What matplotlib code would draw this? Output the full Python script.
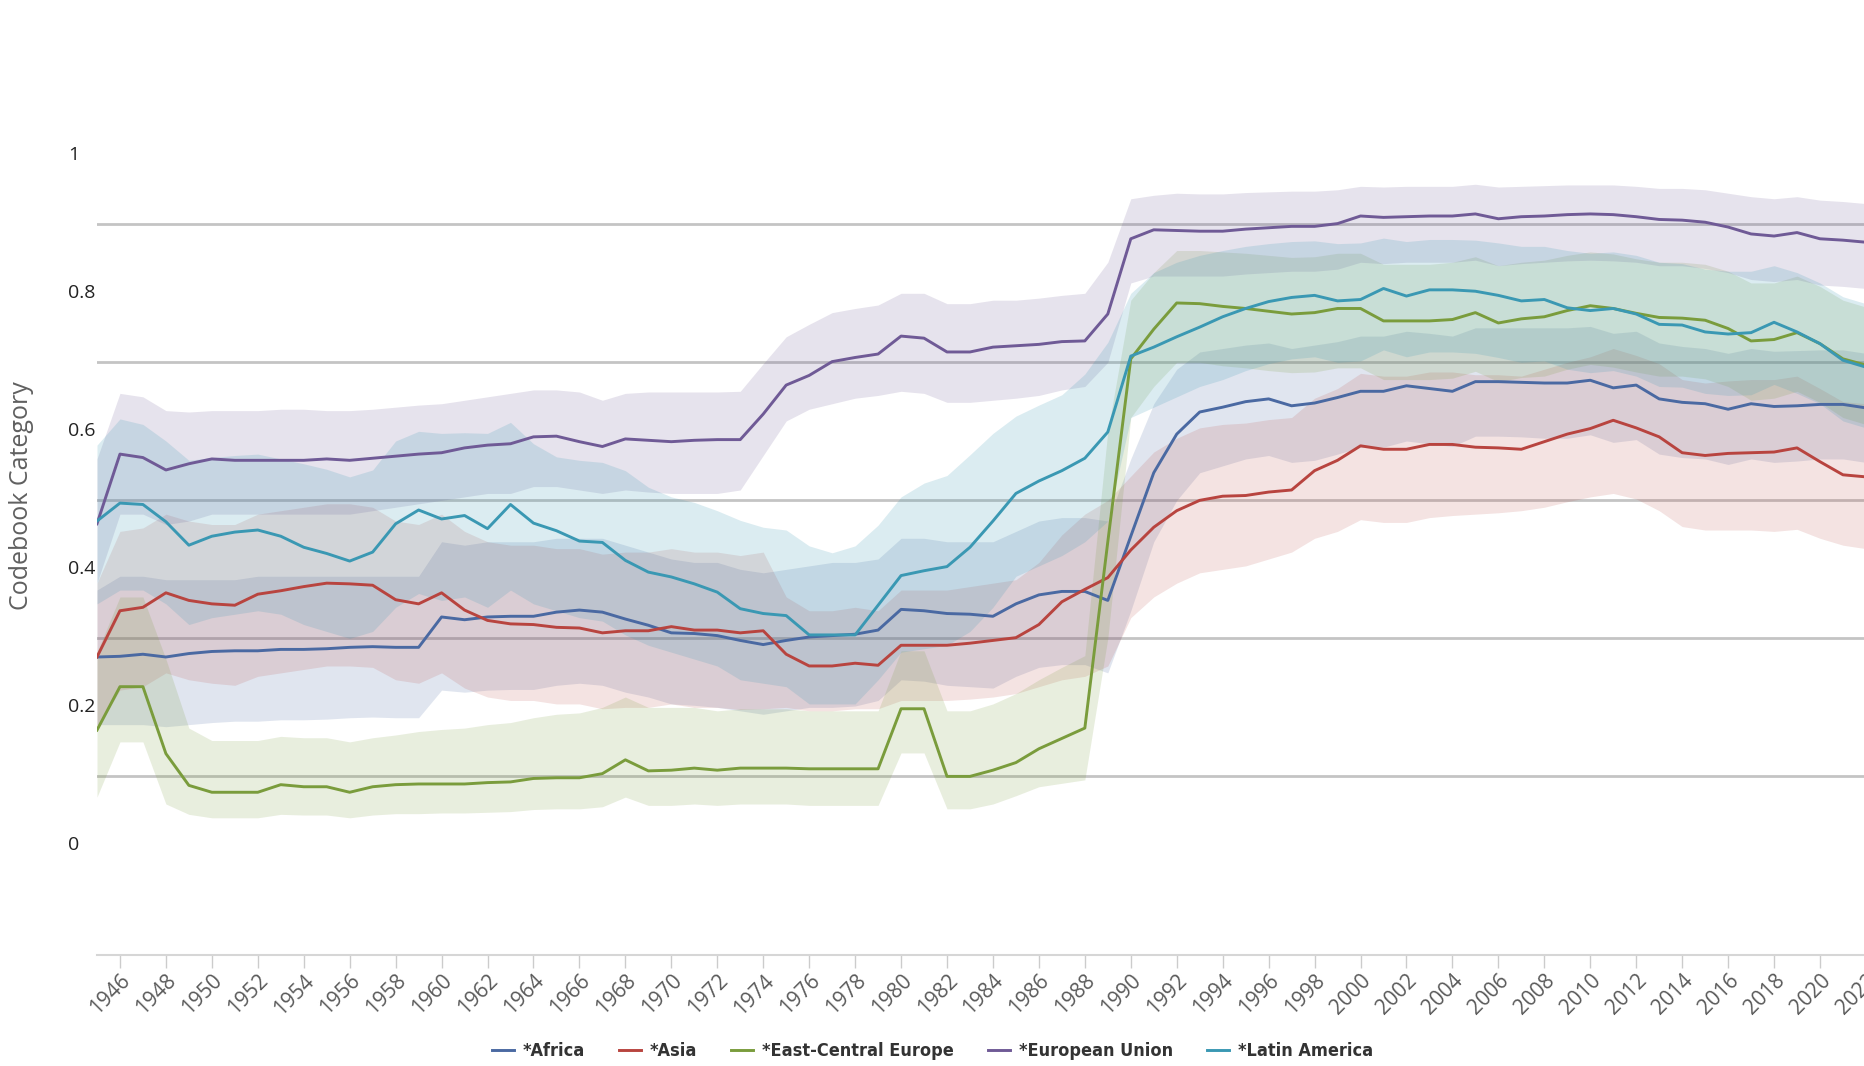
import numpy as np
import matplotlib
matplotlib.use("Agg")
import matplotlib.pyplot as plt
from matplotlib import font_manager

# years shown on the chart
years = list(range(1945, 2023))

africa = [0.273, 0.274, 0.277, 0.273, 0.278, 0.281, 0.282, 0.282, 0.284, 0.284,
          0.285, 0.287, 0.288, 0.287, 0.287, 0.331, 0.327, 0.331, 0.332, 0.332,
          0.338, 0.341, 0.338, 0.328, 0.319, 0.308, 0.307, 0.304, 0.297, 0.291,
          0.297, 0.302, 0.304, 0.306, 0.312, 0.342, 0.340, 0.336, 0.335, 0.332,
          0.350, 0.363, 0.368, 0.368, 0.355, 0.448, 0.540, 0.596, 0.628, 0.635,
          0.643, 0.647, 0.637, 0.641, 0.649, 0.658, 0.658, 0.666, 0.662, 0.658,
          0.672, 0.672, 0.671, 0.670, 0.670, 0.674, 0.663, 0.667, 0.647, 0.642,
          0.640, 0.632, 0.640, 0.636, 0.637, 0.639, 0.639, 0.634]
africa_lo = [0.175, 0.175, 0.175, 0.172, 0.175, 0.178, 0.180, 0.180, 0.182, 0.182,
             0.183, 0.185, 0.186, 0.185, 0.185, 0.225, 0.222, 0.225, 0.226, 0.226,
             0.232, 0.235, 0.232, 0.222, 0.215, 0.205, 0.203, 0.200, 0.195, 0.190,
             0.195, 0.200, 0.200, 0.202, 0.210, 0.240, 0.238, 0.232, 0.230, 0.228,
             0.245, 0.258, 0.262, 0.262, 0.250, 0.340, 0.440, 0.500, 0.540, 0.550,
             0.560, 0.565, 0.555, 0.558, 0.567, 0.577, 0.577, 0.586, 0.582, 0.578,
             0.593, 0.593, 0.592, 0.590, 0.590, 0.595, 0.584, 0.588, 0.567, 0.562,
             0.560, 0.552, 0.560, 0.555, 0.557, 0.560, 0.560, 0.555]
africa_hi = [0.370, 0.390, 0.390, 0.385, 0.385, 0.385, 0.385, 0.390, 0.390, 0.390,
             0.390, 0.390, 0.390, 0.390, 0.390, 0.440, 0.435, 0.440, 0.440, 0.440,
             0.445, 0.445, 0.445, 0.435, 0.425, 0.415, 0.410, 0.410, 0.400, 0.395,
             0.400, 0.405, 0.410, 0.410, 0.415, 0.445, 0.445, 0.440, 0.440, 0.440,
             0.455, 0.470, 0.475, 0.475, 0.470, 0.560, 0.640, 0.690, 0.715, 0.720,
             0.725, 0.728, 0.720, 0.725, 0.730, 0.738, 0.738, 0.745, 0.742, 0.738,
             0.750, 0.750, 0.750, 0.750, 0.750, 0.752, 0.742, 0.745, 0.728, 0.723,
             0.720, 0.713, 0.720, 0.716, 0.717, 0.718, 0.718, 0.713]

asia = [0.273, 0.340, 0.345, 0.366, 0.355, 0.350, 0.348, 0.364, 0.369, 0.375,
        0.380, 0.379, 0.377, 0.356, 0.350, 0.366, 0.341, 0.326, 0.321, 0.320,
        0.316, 0.315, 0.308, 0.311, 0.311, 0.317, 0.312, 0.312, 0.308, 0.311,
        0.277, 0.260, 0.260, 0.264, 0.261, 0.290, 0.290, 0.290, 0.293, 0.297,
        0.301, 0.320, 0.353, 0.371, 0.388, 0.428, 0.461, 0.485, 0.500, 0.506,
        0.507, 0.512, 0.515, 0.543, 0.558, 0.579, 0.574, 0.574, 0.581, 0.581,
        0.577, 0.576, 0.574, 0.585, 0.596, 0.604, 0.616, 0.605, 0.592, 0.569,
        0.565, 0.568, 0.569, 0.570, 0.576, 0.556, 0.537, 0.534]
asia_lo = [0.170, 0.225, 0.230, 0.250, 0.240, 0.235, 0.232, 0.245, 0.250, 0.255,
           0.260, 0.260, 0.258, 0.240, 0.235, 0.250, 0.228, 0.215, 0.210, 0.210,
           0.205, 0.205, 0.198, 0.200, 0.200, 0.205, 0.200, 0.200, 0.197, 0.198,
           0.200, 0.195, 0.195, 0.198, 0.198, 0.210, 0.210, 0.210, 0.212, 0.215,
           0.220, 0.230, 0.240, 0.245, 0.260, 0.330, 0.360, 0.380, 0.395, 0.400,
           0.405, 0.415, 0.425, 0.445, 0.455, 0.472, 0.468, 0.468, 0.475, 0.478,
           0.480, 0.482, 0.485, 0.490, 0.498, 0.505, 0.510, 0.502, 0.485, 0.462,
           0.457, 0.457, 0.457, 0.455, 0.458, 0.445, 0.435, 0.430]
asia_hi = [0.380, 0.455, 0.460, 0.480, 0.470, 0.465, 0.465, 0.480, 0.485, 0.490,
           0.495, 0.495, 0.490, 0.470, 0.465, 0.480, 0.455, 0.440, 0.435, 0.435,
           0.430, 0.430, 0.422, 0.425, 0.425, 0.430, 0.425, 0.425, 0.420, 0.425,
           0.360, 0.340, 0.340, 0.345, 0.340, 0.370, 0.370, 0.370, 0.375, 0.380,
           0.385, 0.410, 0.450, 0.480, 0.500, 0.535, 0.570, 0.590, 0.605, 0.610,
           0.612, 0.617, 0.620, 0.648, 0.662, 0.684, 0.680, 0.680, 0.686, 0.686,
           0.682, 0.682, 0.680, 0.690, 0.700, 0.708, 0.720, 0.710, 0.698, 0.675,
           0.670, 0.673, 0.675, 0.675, 0.680, 0.662, 0.643, 0.640]

ece = [0.167, 0.230, 0.230, 0.133, 0.087, 0.077, 0.077, 0.077, 0.088, 0.085,
       0.085, 0.077, 0.085, 0.088, 0.089, 0.089, 0.089, 0.091, 0.092, 0.097,
       0.098, 0.098, 0.104, 0.124, 0.108, 0.109, 0.112, 0.109, 0.112, 0.112,
       0.112, 0.111, 0.111, 0.111, 0.111, 0.198, 0.198, 0.100, 0.100, 0.109,
       0.120, 0.140, 0.155, 0.170, 0.440, 0.705, 0.748, 0.786, 0.785, 0.781,
       0.778, 0.774, 0.770, 0.772, 0.778, 0.778, 0.760, 0.760, 0.760, 0.762,
       0.772, 0.757, 0.763, 0.766, 0.775, 0.782, 0.778, 0.771, 0.765, 0.764,
       0.761, 0.749, 0.731, 0.733, 0.743, 0.727, 0.705, 0.696]
ece_lo = [0.070, 0.150, 0.150, 0.060, 0.045, 0.040, 0.040, 0.040, 0.045, 0.044,
          0.044, 0.040, 0.044, 0.046, 0.046, 0.047, 0.047, 0.048, 0.049, 0.052,
          0.053, 0.053, 0.056, 0.070, 0.058, 0.058, 0.060, 0.058, 0.060, 0.060,
          0.060, 0.058, 0.058, 0.058, 0.058, 0.134, 0.134, 0.053, 0.053, 0.060,
          0.072, 0.085, 0.090, 0.095, 0.300, 0.620, 0.665, 0.700, 0.700, 0.695,
          0.692, 0.688, 0.685, 0.686, 0.692, 0.692, 0.675, 0.675, 0.675, 0.677,
          0.687, 0.672, 0.678, 0.680, 0.690, 0.697, 0.693, 0.686, 0.680, 0.680,
          0.676, 0.665, 0.645, 0.648, 0.658, 0.642, 0.620, 0.610]
ece_hi = [0.280, 0.360, 0.360, 0.270, 0.170, 0.152, 0.152, 0.152, 0.158, 0.156,
          0.156, 0.150, 0.156, 0.160, 0.165, 0.168, 0.170, 0.175, 0.178, 0.185,
          0.190, 0.192, 0.200, 0.215, 0.200, 0.200, 0.200, 0.195, 0.198, 0.198,
          0.198, 0.195, 0.195, 0.195, 0.195, 0.282, 0.282, 0.195, 0.195, 0.205,
          0.220, 0.240, 0.258, 0.275, 0.600, 0.790, 0.830, 0.862, 0.862, 0.860,
          0.858, 0.855, 0.852, 0.853, 0.858, 0.858, 0.842, 0.842, 0.842, 0.845,
          0.853, 0.840, 0.845, 0.848, 0.855, 0.860, 0.857, 0.850, 0.845, 0.845,
          0.842, 0.832, 0.815, 0.815, 0.825, 0.810, 0.790, 0.780]

eu = [0.466, 0.567, 0.562, 0.544, 0.553, 0.560, 0.558, 0.558, 0.558, 0.558,
      0.560, 0.558, 0.561, 0.564, 0.567, 0.569, 0.576, 0.580, 0.582, 0.592,
      0.593, 0.585, 0.578, 0.589, 0.587, 0.585, 0.587, 0.588, 0.588, 0.625,
      0.667, 0.681, 0.701, 0.707, 0.712, 0.738, 0.735, 0.715, 0.715, 0.722,
      0.724, 0.726, 0.730, 0.731, 0.770, 0.879, 0.892, 0.891, 0.890, 0.890,
      0.893, 0.895, 0.897, 0.897, 0.901, 0.912, 0.910, 0.911, 0.912, 0.912,
      0.915, 0.908, 0.911, 0.912, 0.914, 0.915, 0.914, 0.911, 0.907, 0.906,
      0.903, 0.896, 0.886, 0.883, 0.888, 0.879, 0.877, 0.874]
eu_lo = [0.380, 0.480, 0.480, 0.465, 0.470, 0.480, 0.480, 0.480, 0.480, 0.480,
         0.480, 0.480, 0.485, 0.490, 0.495, 0.500, 0.505, 0.510, 0.510, 0.520,
         0.520, 0.515, 0.510, 0.515, 0.512, 0.510, 0.510, 0.510, 0.515, 0.565,
         0.615, 0.632, 0.640, 0.648, 0.652, 0.658, 0.655, 0.642, 0.642, 0.645,
         0.648, 0.652, 0.660, 0.665, 0.700, 0.815, 0.825, 0.825, 0.825, 0.825,
         0.828, 0.830, 0.832, 0.832, 0.835, 0.845, 0.843, 0.845, 0.845, 0.845,
         0.848, 0.840, 0.843, 0.845, 0.847, 0.848, 0.847, 0.845, 0.840, 0.840,
         0.836, 0.830, 0.820, 0.817, 0.820, 0.812, 0.810, 0.807]
eu_hi = [0.560, 0.655, 0.650, 0.630, 0.628, 0.630, 0.630, 0.630, 0.632, 0.632,
         0.630, 0.630, 0.632, 0.635, 0.638, 0.640, 0.645, 0.650, 0.655, 0.660,
         0.660, 0.657, 0.645, 0.655, 0.657, 0.657, 0.657, 0.657, 0.658, 0.698,
         0.737, 0.755, 0.772, 0.778, 0.783, 0.800, 0.800, 0.785, 0.785, 0.790,
         0.790, 0.793, 0.797, 0.800, 0.845, 0.937, 0.942, 0.945, 0.944, 0.944,
         0.946, 0.947, 0.948, 0.948, 0.950, 0.955, 0.954, 0.955, 0.955, 0.955,
         0.958, 0.954, 0.955, 0.956, 0.957, 0.957, 0.957, 0.955, 0.952, 0.952,
         0.950, 0.945, 0.940, 0.937, 0.940, 0.935, 0.933, 0.930]

latam = [0.470, 0.496, 0.494, 0.469, 0.435, 0.448, 0.454, 0.457, 0.448, 0.432,
         0.423, 0.412, 0.425, 0.466, 0.486, 0.473, 0.478, 0.459, 0.494, 0.467,
         0.456, 0.441, 0.439, 0.413, 0.396, 0.389, 0.379, 0.367, 0.343, 0.336,
         0.333, 0.305, 0.305, 0.305, 0.348, 0.391, 0.398, 0.404, 0.432, 0.470,
         0.510, 0.528, 0.543, 0.561, 0.599, 0.709, 0.722, 0.737, 0.751, 0.766,
         0.778, 0.788, 0.794, 0.797, 0.789, 0.791, 0.807, 0.796, 0.805, 0.805,
         0.803, 0.797, 0.789, 0.791, 0.779, 0.775, 0.778, 0.770, 0.755, 0.754,
         0.744, 0.741, 0.743, 0.758, 0.744, 0.727, 0.703, 0.693]
latam_lo = [0.350, 0.370, 0.370, 0.350, 0.320, 0.330, 0.335, 0.340, 0.335, 0.320,
            0.310, 0.300, 0.310, 0.345, 0.365, 0.355, 0.360, 0.345, 0.370, 0.350,
            0.340, 0.330, 0.325, 0.305, 0.290, 0.280, 0.270, 0.260, 0.240, 0.235,
            0.230, 0.205, 0.205, 0.205, 0.240, 0.280, 0.285, 0.290, 0.310, 0.345,
            0.390, 0.405, 0.420, 0.440, 0.470, 0.620, 0.635, 0.650, 0.665, 0.675,
            0.688, 0.698, 0.705, 0.708, 0.700, 0.702, 0.718, 0.708, 0.715, 0.715,
            0.713, 0.707, 0.700, 0.702, 0.690, 0.685, 0.688, 0.680, 0.665, 0.664,
            0.655, 0.652, 0.653, 0.668, 0.655, 0.640, 0.615, 0.605]
latam_hi = [0.580, 0.618, 0.610, 0.586, 0.558, 0.562, 0.565, 0.567, 0.560, 0.553,
            0.545, 0.534, 0.544, 0.586, 0.600, 0.597, 0.598, 0.597, 0.613, 0.582,
            0.563, 0.558, 0.555, 0.543, 0.519, 0.505, 0.497, 0.485, 0.471, 0.461,
            0.457, 0.434, 0.424, 0.434, 0.464, 0.505, 0.525, 0.536, 0.566, 0.597,
            0.622, 0.638, 0.653, 0.683, 0.729, 0.800, 0.830, 0.845, 0.855, 0.862,
            0.868, 0.872, 0.875, 0.876, 0.872, 0.873, 0.880, 0.875, 0.878, 0.878,
            0.877, 0.873, 0.868, 0.868, 0.862, 0.858, 0.860, 0.855, 0.845, 0.843,
            0.835, 0.832, 0.832, 0.840, 0.830, 0.815, 0.795, 0.785]

series_names = ["*Africa", "*Asia", "*East-Central Europe", "*European Union", "*Latin America"]
series_vals = [africa, asia, ece, eu, latam]
series_lo = [africa_lo, asia_lo, ece_lo, eu_lo, latam_lo]
series_hi = [africa_hi, asia_hi, ece_hi, eu_hi, latam_hi]
colors = ["#4a69a2", "#b8443f", "#7a9c3c", "#6f5a96", "#3a98b3"]
band_alpha = [0.17, 0.15, 0.17, 0.17, 0.18]

y_ticks = [0, 0.2, 0.4, 0.6, 0.8, 1]
y_tick_labels = ["0", "0.2", "0.4", "0.6", "0.8", "1"]
grid_vals = [0.1, 0.3, 0.5, 0.7, 0.9]
x_ticks = list(range(1946, 2023, 2))

# 图例字体：尽量用窄体，找不到就用小一点的 DejaVu Sans
legend_prop = {"family": ["DejaVu Sans"], "weight": "bold", "size": 11}
for fam in ["Liberation Sans Narrow", "DejaVu Sans"]:
    try:
        fp = font_manager.FontProperties(family=fam, weight="bold", stretch="condensed")
        path = font_manager.findfont(fp, fallback_to_default=False)
    except Exception:
        continue
    if "Narrow" in path or "Condensed" in path:
        legend_prop = {"family": [fam, "DejaVu Sans"], "weight": "bold",
                       "stretch": "condensed", "size": 13}
        break

fig = plt.figure(figsize=(18.65, 10.66), dpi=100)
ax = fig.add_axes([0.052, 0.104, 0.9485, 0.896])

# 置信区间
for lo, hi, c, a in zip(series_lo, series_hi, colors, band_alpha):
    ax.fill_between(years, lo, hi, color=c, alpha=a, linewidth=0, zorder=2)

for g in grid_vals:
    ax.axhline(g, color="#c4c4c4", linewidth=2, zorder=1)

lines = []
for vals, c, name in zip(series_vals, colors, series_names):
    ln, = ax.plot(years, vals, color=c, linewidth=2.1, label=name, zorder=3)
    lines.append(ln)

ax.set_xlim(1945, 2022)
ax.set_ylim(-0.159, 1.225)

# y 轴：只显示文字，不显示刻度线
ax.set_yticks([])
ytrans = ax.get_yaxis_transform()
for v, t in zip(y_ticks, y_tick_labels):
    ax.text(-0.0165, v, t, transform=ytrans, ha="left", va="center",
            fontsize=14, color="#222222", family=["Open Sans", "DejaVu Sans"])

fig.text(0.0115, 0.535, "Codebook Category", rotation=90, ha="center", va="center",
         fontsize=18, color="#606060", family=["Open Sans", "DejaVu Sans"])

ax.set_xticks(x_ticks)
ax.set_xticklabels([str(y) for y in x_ticks], rotation=45, ha="right", va="top",
                   rotation_mode="anchor", fontsize=15, color="#5a5a5a",
                   family=["Open Sans", "DejaVu Sans"])
ax.tick_params(axis="x", length=9, width=1, color="#cccccc", pad=2)

for s in ["top", "right", "left"]:
    ax.spines[s].set_visible(False)
ax.spines["bottom"].set_color("#d6d6d6")
ax.spines["bottom"].set_linewidth(1.5)

fig.legend(handles=lines, labels=series_names, loc="center", bbox_to_anchor=(0.5, 0.014),
           ncol=5, frameon=False, handlelength=1.2, handletextpad=0.5, columnspacing=1.9,
           prop=legend_prop, labelcolor="#333333")

fig.savefig("out.png", dpi=100, facecolor="white")
